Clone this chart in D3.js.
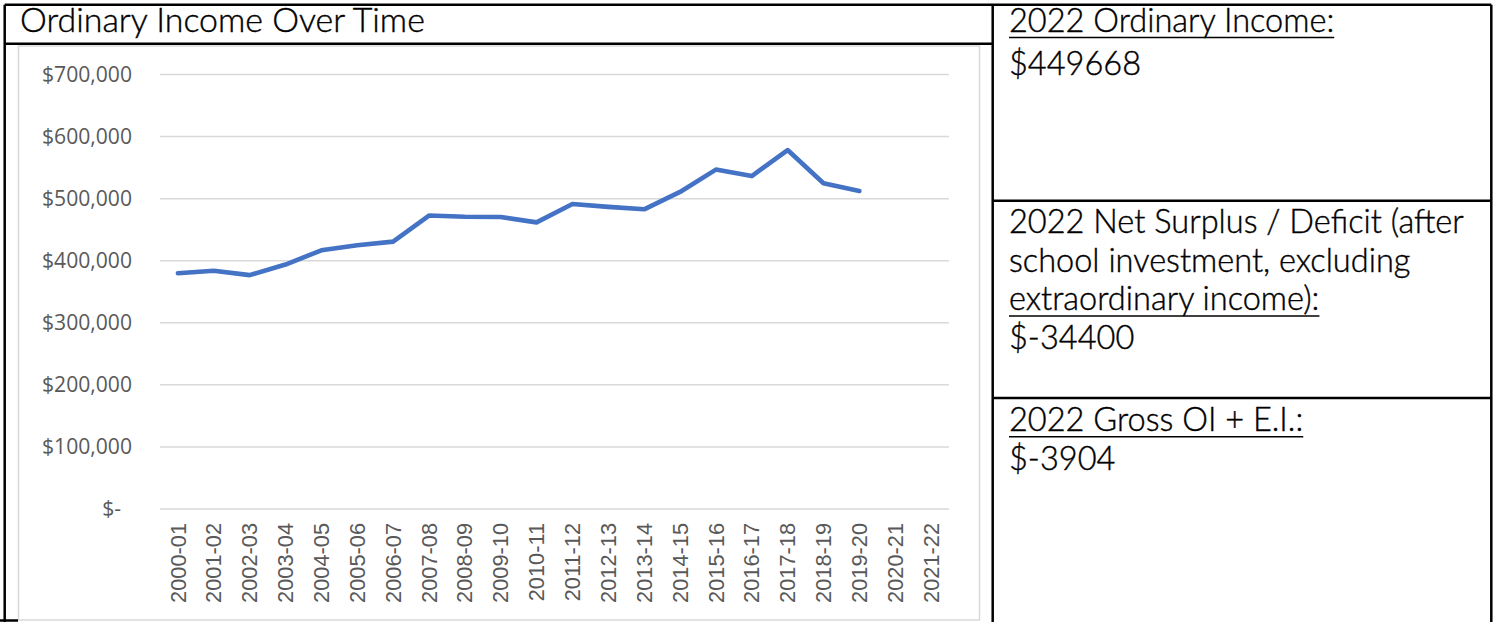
<!DOCTYPE html>
<html><head><meta charset="utf-8">
<script src="https://cdn.jsdelivr.net/npm/d3@7"></script>
<style>html,body{margin:0;padding:0;background:#fff;overflow:hidden}</style>
</head><body>
<svg id="c" width="1499" height="622"></svg>
<script>
// ---------- data ----------
const categories = ["2000-01","2001-02","2002-03","2003-04","2004-05","2005-06","2006-07","2007-08","2008-09","2009-10","2010-11","2011-12","2012-13","2013-14","2014-15","2015-16","2016-17","2017-18","2018-19","2019-20","2020-21","2021-22"];
const ordinaryIncome = [379000,383000,376000,393000,416000,424000,430000,472000,470000,469500,461000,490500,486000,482000,510000,546000,535500,577500,524000,511500,null,null];
const yTickValues = [0,100000,200000,300000,400000,500000,600000,700000];
const yTickLabels = ["$-\u00a0\u00a0","$100,000","$200,000","$300,000","$400,000","$500,000","$600,000","$700,000"];
const chartTitle = "Ordinary Income Over Time";
const panel1Lines = ["2022 Ordinary Income:","$449668"];
const panel2Lines = ["2022 Net Surplus / Deficit (after","school investment, excluding","extraordinary income):","$-34400"];
const panel3Lines = ["2022 Gross OI + E.I.:","$-3904"];

// ---------- drawing ----------
const svg = d3.select("#c");
svg.append("rect").attr("width",1499).attr("height",622).attr("fill","#fff");

function fitSize(family, weight, text, target){
  const t = svg.append("text").attr("font-family",family).attr("font-weight",weight).attr("font-size",100).text(text);
  const l = t.node().getComputedTextLength();
  t.remove();
  return 100*target/l;
}

// chart frame
svg.append("rect").attr("x",18.5).attr("y",46).attr("width",961).attr("height",574)
  .attr("fill","none").attr("stroke","#d9d9d9").attr("stroke-width",1.5);

const x = d3.scaleBand().domain(categories).range([160,949]);
const y = d3.scaleLinear().domain([0,700000]).range([508.5,74]);

const yFont = fitSize("Open Sans", 400, "$700,000", 90);
const gy = svg.append("g").attr("transform","translate(160,0)")
  .call(d3.axisLeft(y).tickValues(yTickValues).tickSize(-(949-160)).tickPadding(28)
    .tickFormat(d=>yTickLabels[yTickValues.indexOf(d)]));
gy.select(".domain").remove();
gy.selectAll(".tick line").attr("stroke","#d9d9d9").attr("stroke-width",1.5);
gy.selectAll(".tick text").attr("font-family","Open Sans").attr("font-size",yFont)
  .attr("fill","#595959").attr("dy","0.35em");

const xFont = fitSize("Liberation Sans", 400, "2000-01", 80);
const gx = svg.append("g").attr("transform","translate(0,508.5)")
  .call(d3.axisBottom(x).tickSize(0));
gx.select(".domain").remove();
gx.selectAll(".tick text").attr("font-family","Liberation Sans").attr("font-size",xFont)
  .attr("fill","#595959").attr("transform","rotate(-90)")
  .attr("x",-14.5).attr("y",0).attr("dy","0.35em").attr("text-anchor","end");

const line = d3.line().defined(d=>d!=null)
  .x((d,i)=>x(categories[i])+x.bandwidth()/2).y(d=>y(d));
svg.append("path").datum(ordinaryIncome).attr("d",line)
  .attr("fill","none").attr("stroke","#4472C4").attr("stroke-width",4.6)
  .attr("stroke-linecap","round").attr("stroke-linejoin","round");

// title
const FW = 300;
const tFont = fitSize("Lato", FW, chartTitle, 405);
svg.append("text").attr("x",20).attr("y",32).attr("font-family","Lato").attr("font-weight",FW)
  .attr("font-size",tFont).attr("fill","#000").attr("stroke","#000").attr("stroke-width",0.4)
  .text(chartTitle);

// panels
const pFont = fitSize("Lato", FW, panel2Lines[0], 455);
function panel(lines, baselines, underlined){
  lines.forEach((s,i)=>{
    const t = svg.append("text").attr("x",1009).attr("y",baselines[i]).attr("font-family","Lato")
      .attr("font-weight",FW).attr("font-size",pFont).attr("fill","#000")
      .attr("stroke","#000").attr("stroke-width",0.4).text(s);
    if (underlined.includes(i)){
      const w = t.node().getComputedTextLength();
      svg.append("line").attr("x1",1009).attr("x2",1009+w)
        .attr("y1",baselines[i]+5.5).attr("y2",baselines[i]+5.5)
        .attr("stroke","#000").attr("stroke-width",1.5);
    }
  });
}
panel(panel1Lines,[32,74.5],[0]);
panel(panel2Lines,[233,271.7,310.4,349],[2]);
panel(panel3Lines,[431.3,470],[0]);

// table borders
const bw = 2.5, L=4.7, T=4.7, M=992.7, R=1491.3;
const borders = [
  [L,T,R,T],[L,T,L,622],[L,43.7,M,43.7],[M,T,M,622],[R,T,R,622],
  [M,200.7,R,200.7],[M,398,R,398],[0,620.5,18,620.5]
];
svg.selectAll(".b").data(borders).enter().append("line")
  .attr("x1",d=>d[0]).attr("y1",d=>d[1]).attr("x2",d=>d[2]).attr("y2",d=>d[3])
  .attr("stroke","#000").attr("stroke-width",bw);
</script>
</body></html>
